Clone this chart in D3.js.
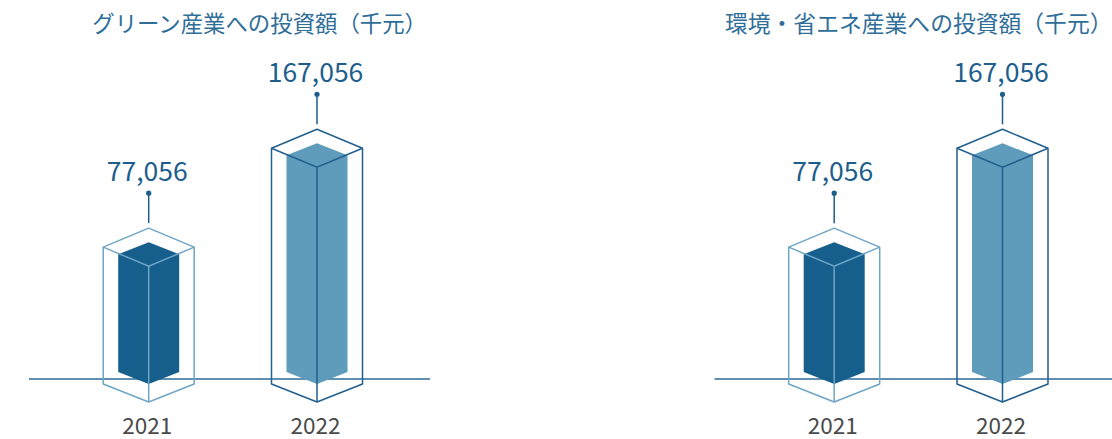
<!DOCTYPE html>
<html>
<head>
<meta charset="utf-8">
<script src="https://cdn.jsdelivr.net/npm/d3@7"></script>
<style>
html,body{margin:0;padding:0;background:#fff;}
svg{display:block;font-family:"Noto Sans CJK JP","Noto Sans",sans-serif;}
</style>
</head>
<body>
<svg id="chart" width="1112" height="439"></svg>
<script>
// ---- data ----
const titles = ["グリーン産業への投資額（千元）", "環境・省エネ産業への投資額（千元）"];
const years = ["2021", "2022"];
const greenValues = [77056, 167056];
const envValues = [77056, 167056];
const panelValues = [greenValues, envValues];

// ---- styles ----
const solidColors = ["#165e8c", "#5f9bba"];
const wireColors = ["#6fa5c5", "#215f8e"];
const baseColor = "#2b6a97";
const titleColor = "#2f6e99";
const valueColor = "#1d5e8c";
const yearColor = "#4a4a4a";

const svg = d3.select("#chart");
const panelOffsets = [0, 685.5];

const x = d3.scalePoint().domain(years).range([148.7, 317]);
const y = d3.scaleLinear().domain([0, 167056]).range([350.8, 167.3]);
const baseY = 379;
const floorY = 384;
const fmt = d3.format(",");

const wHalf = 45.5, wRise = 19;   // wireframe
const sHalf = 30.5, sRise = 12;   // solid

panelOffsets.forEach((off, pi) => {
  const g = svg.append("g").attr("transform", `translate(${off},0)`);

  g.append("text")
    .attr("x", 427).attr("y", 32)
    .attr("text-anchor", "end")
    .attr("font-size", pi === 0 ? 22.4 : 22.8)
    .attr("fill", titleColor)
    .text(titles[pi]);

  g.append("line")
    .attr("x1", 29).attr("x2", 430)
    .attr("y1", baseY).attr("y2", baseY)
    .attr("stroke", baseColor).attr("stroke-width", 1.5);

  const vals = panelValues[pi];
  years.forEach((yr, i) => {
    const cx = x(yr);
    const f = y(vals[i]);          // front top vertex
    const top = f - 2 * wRise;     // wireframe top vertex
    const bottom = floorY + wRise - 1;
    const bar = g.append("g");

    // solid prism (single colour)
    const solid = [
      [cx, f - 2 * sRise], [cx - sHalf, f - sRise], [cx - sHalf, floorY - sRise],
      [cx, floorY], [cx + sHalf, floorY - sRise], [cx + sHalf, f - sRise]
    ];
    bar.append("path")
      .attr("d", d3.line()(solid) + "Z")
      .attr("fill", solidColors[i]);

    // wireframe outline
    const outline = [
      [cx, top], [cx - wHalf, top + wRise], [cx - wHalf, floorY],
      [cx, bottom], [cx + wHalf, floorY], [cx + wHalf, top + wRise]
    ];
    bar.append("path")
      .attr("d", d3.line()(outline) + "Z")
      .attr("fill", "none").attr("stroke", wireColors[i]).attr("stroke-width", 1.5)
      .attr("stroke-linejoin", "round");
    bar.append("path")
      .attr("d", d3.line()([[cx - wHalf, top + wRise], [cx, f], [cx + wHalf, top + wRise]]))
      .attr("fill", "none").attr("stroke", wireColors[i]).attr("stroke-width", 1.5);
    bar.append("line")
      .attr("x1", cx).attr("x2", cx).attr("y1", f).attr("y2", bottom)
      .attr("stroke", wireColors[i]).attr("stroke-width", 1.5);

    // stem + dot + value
    const dotY = top - 35;
    bar.append("line")
      .attr("x1", cx).attr("x2", cx).attr("y1", dotY).attr("y2", top - 5)
      .attr("stroke", valueColor).attr("stroke-width", 1.5);
    bar.append("circle")
      .attr("cx", cx).attr("cy", dotY).attr("r", 2.6).attr("fill", valueColor);
    bar.append("text")
      .attr("x", cx - 1.5).attr("y", dotY - 12)
      .attr("text-anchor", "middle")
      .attr("font-size", 26.5)
      .attr("fill", valueColor)
      .text(fmt(vals[i]));

    g.append("text")
      .attr("x", cx - 1.5).attr("y", 433.5)
      .attr("text-anchor", "middle")
      .attr("font-size", 22.5)
      .attr("fill", yearColor)
      .text(yr);
  });
});
</script>
</body>
</html>
